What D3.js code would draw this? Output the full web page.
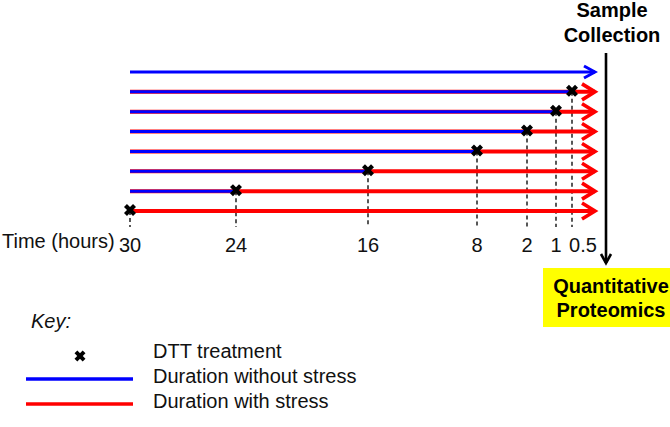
<!DOCTYPE html>
<html>
<head>
<meta charset="utf-8">
<script src="https://cdn.jsdelivr.net/npm/d3@7"></script>
<style>
  body { margin: 0; background: #fff; }
  text { font-family: "Liberation Sans", Arial, sans-serif; }
</style>
</head>
<body>
<svg id="chart" width="670" height="427"></svg>
<script>
// ---- data ----
const timeTicks = [30, 24, 16, 8, 2, 1, 0.5];          // hours before sample collection
const treatmentTimes = [null, 0.5, 1, 2, 8, 16, 24, 30]; // DTT added (null = untreated control)
const axisTitle = "Time (hours)";
const topLabel = ["Sample", "Collection"];
const boxLabel = ["Quantitative", "Proteomics"];
const keyTitle = "Key:";
const keyItems = ["DTT treatment", "Duration without stress", "Duration with stress"];

// ---- layout ----
const svg = d3.select("#chart");
const BLUE = "#0000ff", RED = "#ff0000";

// polylinear time scale (schematic, non-uniform spacing as in the figure)
const x = d3.scaleLinear()
  .domain([30, 24, 16, 8, 2, 1, 0.5, 0])
  .range([130, 236, 368, 477, 527, 556, 572, 597]);

const y = d3.scalePoint()
  .domain(d3.range(treatmentTimes.length))
  .range([72, 211]);

const defs = svg.append("defs");
function chevron(id, color, w, h, sw) {
  defs.append("marker")
    .attr("id", id).attr("markerUnits", "userSpaceOnUse")
    .attr("viewBox", `${-w - sw} ${-h - sw} ${w + 2 * sw} ${2 * h + 2 * sw}`)
    .attr("refX", 0).attr("refY", 0)
    .attr("markerWidth", w + 2 * sw).attr("markerHeight", 2 * h + 2 * sw)
    .attr("orient", "auto")
    .append("path")
    .attr("d", `M${-w},${-h}L0,0L${-w},${h}`)
    .attr("fill", "none").attr("stroke", color).attr("stroke-width", sw)
    .attr("stroke-linejoin", "miter").attr("stroke-miterlimit", 10);
}
chevron("arrRed", RED, 13, 8, 3.6);
chevron("arrBlue", BLUE, 11, 6, 3);
chevron("arrBlack", "#000", 9, 5, 2.6);

const xSym = d3.symbol().type(d3.symbolX).size(55);

// dashed drop lines from each treatment to the time axis
const rows = treatmentTimes.map((t, i) => ({ t, i }));
svg.append("g").selectAll("line")
  .data(rows.filter(d => d.t !== null))
  .join("line")
  .attr("x1", d => x(d.t)).attr("x2", d => x(d.t))
  .attr("y1", d => y(d.i)).attr("y2", 227)
  .attr("stroke", "#111").attr("stroke-width", 1.4)
  .attr("stroke-dasharray", "4,3");

const rowG = svg.append("g").selectAll("g").data(rows).join("g");

// red (stressed) line across full span, with arrow
rowG.filter(d => d.t !== null).append("line")
  .attr("x1", x(30)).attr("x2", x(0) - 2)
  .attr("y1", d => y(d.i)).attr("y2", d => y(d.i))
  .attr("stroke", RED).attr("stroke-width", 4)
  .attr("marker-end", "url(#arrRed)");

// blue (unstressed) segment up to treatment
rowG.filter(d => d.t !== 30).append("line")
  .attr("x1", x(30))
  .attr("x2", d => d.t === null ? x(0) - 2 : x(d.t))
  .attr("y1", d => y(d.i)).attr("y2", d => y(d.i))
  .attr("stroke", BLUE).attr("stroke-width", 3)
  .attr("marker-end", d => d.t === null ? "url(#arrBlue)" : null);

// DTT treatment markers
rowG.filter(d => d.t !== null).append("path")
  .attr("d", xSym)
  .attr("transform", d => `translate(${x(d.t)},${y(d.i) - 1})`)
  .attr("fill", "none").attr("stroke", "#000").attr("stroke-width", 4.2);

// time axis labels
svg.append("g").selectAll("text")
  .data(timeTicks).join("text")
  .attr("x", d => x(d) + (d === 0.5 ? 11 : 0))
  .attr("y", 252)
  .attr("text-anchor", "middle")
  .attr("font-size", 20).attr("fill", "#111")
  .text(d => d);

svg.append("text")
  .attr("x", 2).attr("y", 248)
  .attr("font-size", 20).attr("fill", "#111")
  .text(axisTitle);

// sample collection arrow
svg.append("line")
  .attr("x1", 606).attr("x2", 606)
  .attr("y1", 53).attr("y2", 263)
  .attr("stroke", "#000").attr("stroke-width", 2.6)
  .attr("marker-end", "url(#arrBlack)");

svg.append("g").selectAll("text").data(topLabel).join("text")
  .attr("x", 612).attr("y", (d, i) => 17 + i * 25)
  .attr("text-anchor", "middle")
  .attr("font-size", 20).attr("font-weight", "bold").attr("fill", "#000")
  .text(d => d);

// quantitative proteomics box
svg.append("rect")
  .attr("x", 543).attr("y", 268).attr("width", 130).attr("height", 59)
  .attr("fill", "#ffff00");
svg.append("g").selectAll("text").data(boxLabel).join("text")
  .attr("x", 611).attr("y", (d, i) => 293 + i * 24)
  .attr("text-anchor", "middle")
  .attr("font-size", 20).attr("font-weight", "bold").attr("fill", "#000")
  .text(d => d);

// key
svg.append("text")
  .attr("x", 31).attr("y", 328)
  .attr("font-size", 20).attr("font-style", "italic").attr("fill", "#111")
  .text(keyTitle);

const key = svg.append("g");
key.append("path")
  .attr("d", d3.symbol().type(d3.symbolX).size(45))
  .attr("transform", "translate(80,356)")
  .attr("fill", "none").attr("stroke", "#000").attr("stroke-width", 4);
key.append("line")
  .attr("x1", 26).attr("x2", 133).attr("y1", 379).attr("y2", 379)
  .attr("stroke", BLUE).attr("stroke-width", 3.5);
key.append("line")
  .attr("x1", 26).attr("x2", 133).attr("y1", 404).attr("y2", 404)
  .attr("stroke", RED).attr("stroke-width", 3.5);
key.selectAll("text.item").data(keyItems).join("text")
  .attr("class", "item")
  .attr("x", 153).attr("y", (d, i) => 358 + i * 25)
  .attr("font-size", 20).attr("fill", "#111")
  .text(d => d);
</script>
</body>
</html>
